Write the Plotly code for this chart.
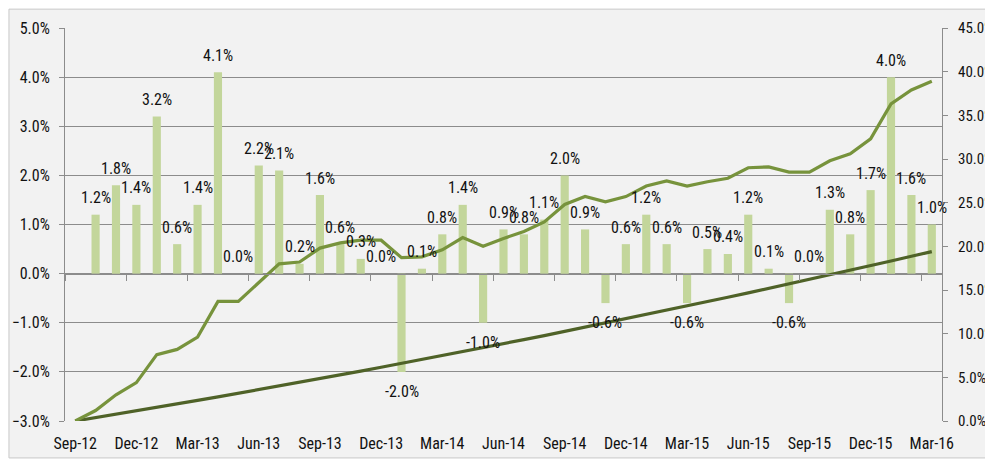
import plotly.graph_objects as go

# ---------------- data ----------------
months = [
    "Sep-12", "Oct-12", "Nov-12", "Dec-12", "Jan-13", "Feb-13", "Mar-13", "Apr-13",
    "May-13", "Jun-13", "Jul-13", "Aug-13", "Sep-13", "Oct-13", "Nov-13", "Dec-13",
    "Jan-14", "Feb-14", "Mar-14", "Apr-14", "May-14", "Jun-14", "Jul-14", "Aug-14",
    "Sep-14", "Oct-14", "Nov-14", "Dec-14", "Jan-15", "Feb-15", "Mar-15", "Apr-15",
    "May-15", "Jun-15", "Jul-15", "Aug-15", "Sep-15", "Oct-15", "Nov-15", "Dec-15",
    "Jan-16", "Feb-16", "Mar-16",
]

# monthly return (%), Oct-12 .. Mar-16  (left axis, bars)
bar_months = months[1:]
monthly_return = [
    1.2, 1.8, 1.4, 3.2, 0.6, 1.4, 4.1, 0.0, 2.2, 2.1, 0.2, 1.6,
    0.6, 0.3, 0.0, -2.0, 0.1, 0.8, 1.4, -1.0, 0.9, 0.8, 1.1, 2.0,
    0.9, -0.6, 0.6, 1.2, 0.6, -0.6, 0.5, 0.4, 1.2, 0.1, -0.6, 0.0,
    1.3, 0.8, 1.7, 4.0, 1.6, 1.0,
]

# cumulative return (%), Sep-12 .. Mar-16  (right axis)
cumulative_return = [
    0.0, 1.2, 3.0, 4.4, 7.6, 8.2, 9.6, 13.7, 13.7, 15.9, 18.0, 18.2,
    19.8, 20.4, 20.7, 20.7, 18.7, 18.8, 19.6, 21.0, 20.0, 20.9, 21.7, 22.8,
    24.8, 25.7, 25.1, 25.7, 26.9, 27.5, 26.9, 27.4, 27.8, 29.0, 29.1, 28.5,
    28.5, 29.8, 30.6, 32.3, 36.3, 37.9, 38.9,
]

# benchmark cumulative (%), Sep-12 .. Mar-16  (right axis)
benchmark_return = [
    0.00, 0.38, 0.77, 1.16, 1.56, 1.95, 2.36, 2.76, 3.17, 3.59, 4.00, 4.43,
    4.85, 5.28, 5.71, 6.15, 6.59, 7.04, 7.48, 7.94, 8.39, 8.85, 9.32, 9.78,
    10.26, 10.73, 11.21, 11.69, 12.18, 12.67, 13.17, 13.66, 14.17, 14.67, 15.18,
    15.70, 16.22, 16.74, 17.26, 17.79, 18.32, 18.86, 19.40,
]

tick_labels = months[::3]

# ---------------- style ----------------
FONT = "Roboto Condensed, DejaVu Sans Condensed, Liberation Sans Narrow, sans-serif"
FS = 16
TXT = "#111111"
GRID = "#8c8c8c"
BAR = "#c3d69b"
CUM = "#77933c"
BENCH = "#4f6228"

fig = go.Figure()

fig.add_trace(go.Bar(
    x=bar_months, y=monthly_return, marker=dict(color=BAR, line=dict(width=0)),
    xaxis="x", yaxis="y", showlegend=False, hoverinfo="x+y",
))
fig.add_trace(go.Scatter(
    x=months, y=benchmark_return, xaxis="x2", yaxis="y2", mode="lines",
    line=dict(color=BENCH, width=3.2), showlegend=False,
))
fig.add_trace(go.Scatter(
    x=months, y=cumulative_return, xaxis="x2", yaxis="y2", mode="lines",
    line=dict(color=CUM, width=3.2), showlegend=False,
))

annotations = []
for m, v in zip(bar_months, monthly_return):
    annotations.append(dict(
        x=m, y=v, xref="x", yref="y", text=f"{v:.1f}%", showarrow=False,
        yanchor="middle", xanchor="center", yshift=17 if v >= 0 else -19.5,
        font=dict(family=FONT, size=FS, color=TXT),
    ))

# chart-area background panel with its thin border
shapes = [dict(
    type="rect", xref="paper", yref="paper", x0=-0.0639, x1=1.0547, y0=-0.094, y1=1.048,
    fillcolor="#f2f2f2", line=dict(color="#c8c8c8", width=1), layer="below",
)]

# the page places the figure 8px in from the top-left corner, so the
# figure is sized/margined to land the plot area at 65..942 x 28..421
fig.update_layout(
    width=985, height=453,
    margin=dict(l=57, r=51, t=20, b=40, autoexpand=False),
    paper_bgcolor="white", plot_bgcolor="#f2f2f2",
    bargap=0.6,
    font=dict(family=FONT, size=FS, color=TXT),
    annotations=annotations,
    shapes=shapes,
    xaxis=dict(
        type="category", categoryorder="array", categoryarray=months,
        range=[-0.5, len(months) - 0.5], tickvals=tick_labels, ticktext=tick_labels,
        showline=False, ticks="", showgrid=False, zeroline=False, automargin=False,
        ticklabelstandoff=11, tickfont=dict(family=FONT, size=FS, color=TXT),
        anchor="y",
    ),
    xaxis2=dict(
        type="category", categoryorder="array", categoryarray=months,
        matches="x", overlaying="x", anchor="free", position=0.375,
        tickvals=tick_labels, tickson="boundaries", ticks="outside", ticklen=6,
        tickcolor=GRID, showticklabels=False, showline=True, linecolor=GRID,
        linewidth=1, showgrid=False, zeroline=False, automargin=False,
    ),
    yaxis=dict(
        range=[-3, 5], dtick=1, tickformat=".1f", ticksuffix="%",
        showgrid=True, gridcolor=GRID, gridwidth=1, zeroline=False,
        showline=True, linecolor=GRID, ticks="outside", ticklen=5, tickcolor=GRID,
        ticklabelstandoff=6, tickfont=dict(family=FONT, size=FS, color=TXT),
        automargin=False,
    ),
    yaxis2=dict(
        range=[0, 45], dtick=5, tickformat=".1f", ticksuffix="%",
        overlaying="y", side="right", anchor="x2",
        showgrid=False, zeroline=False, showline=True, linecolor=GRID,
        ticks="outside", ticklen=5, tickcolor=GRID, ticklabelstandoff=7,
        tickfont=dict(family=FONT, size=15, color=TXT), automargin=False,
    ),
)

fig.write_html("out.html")
